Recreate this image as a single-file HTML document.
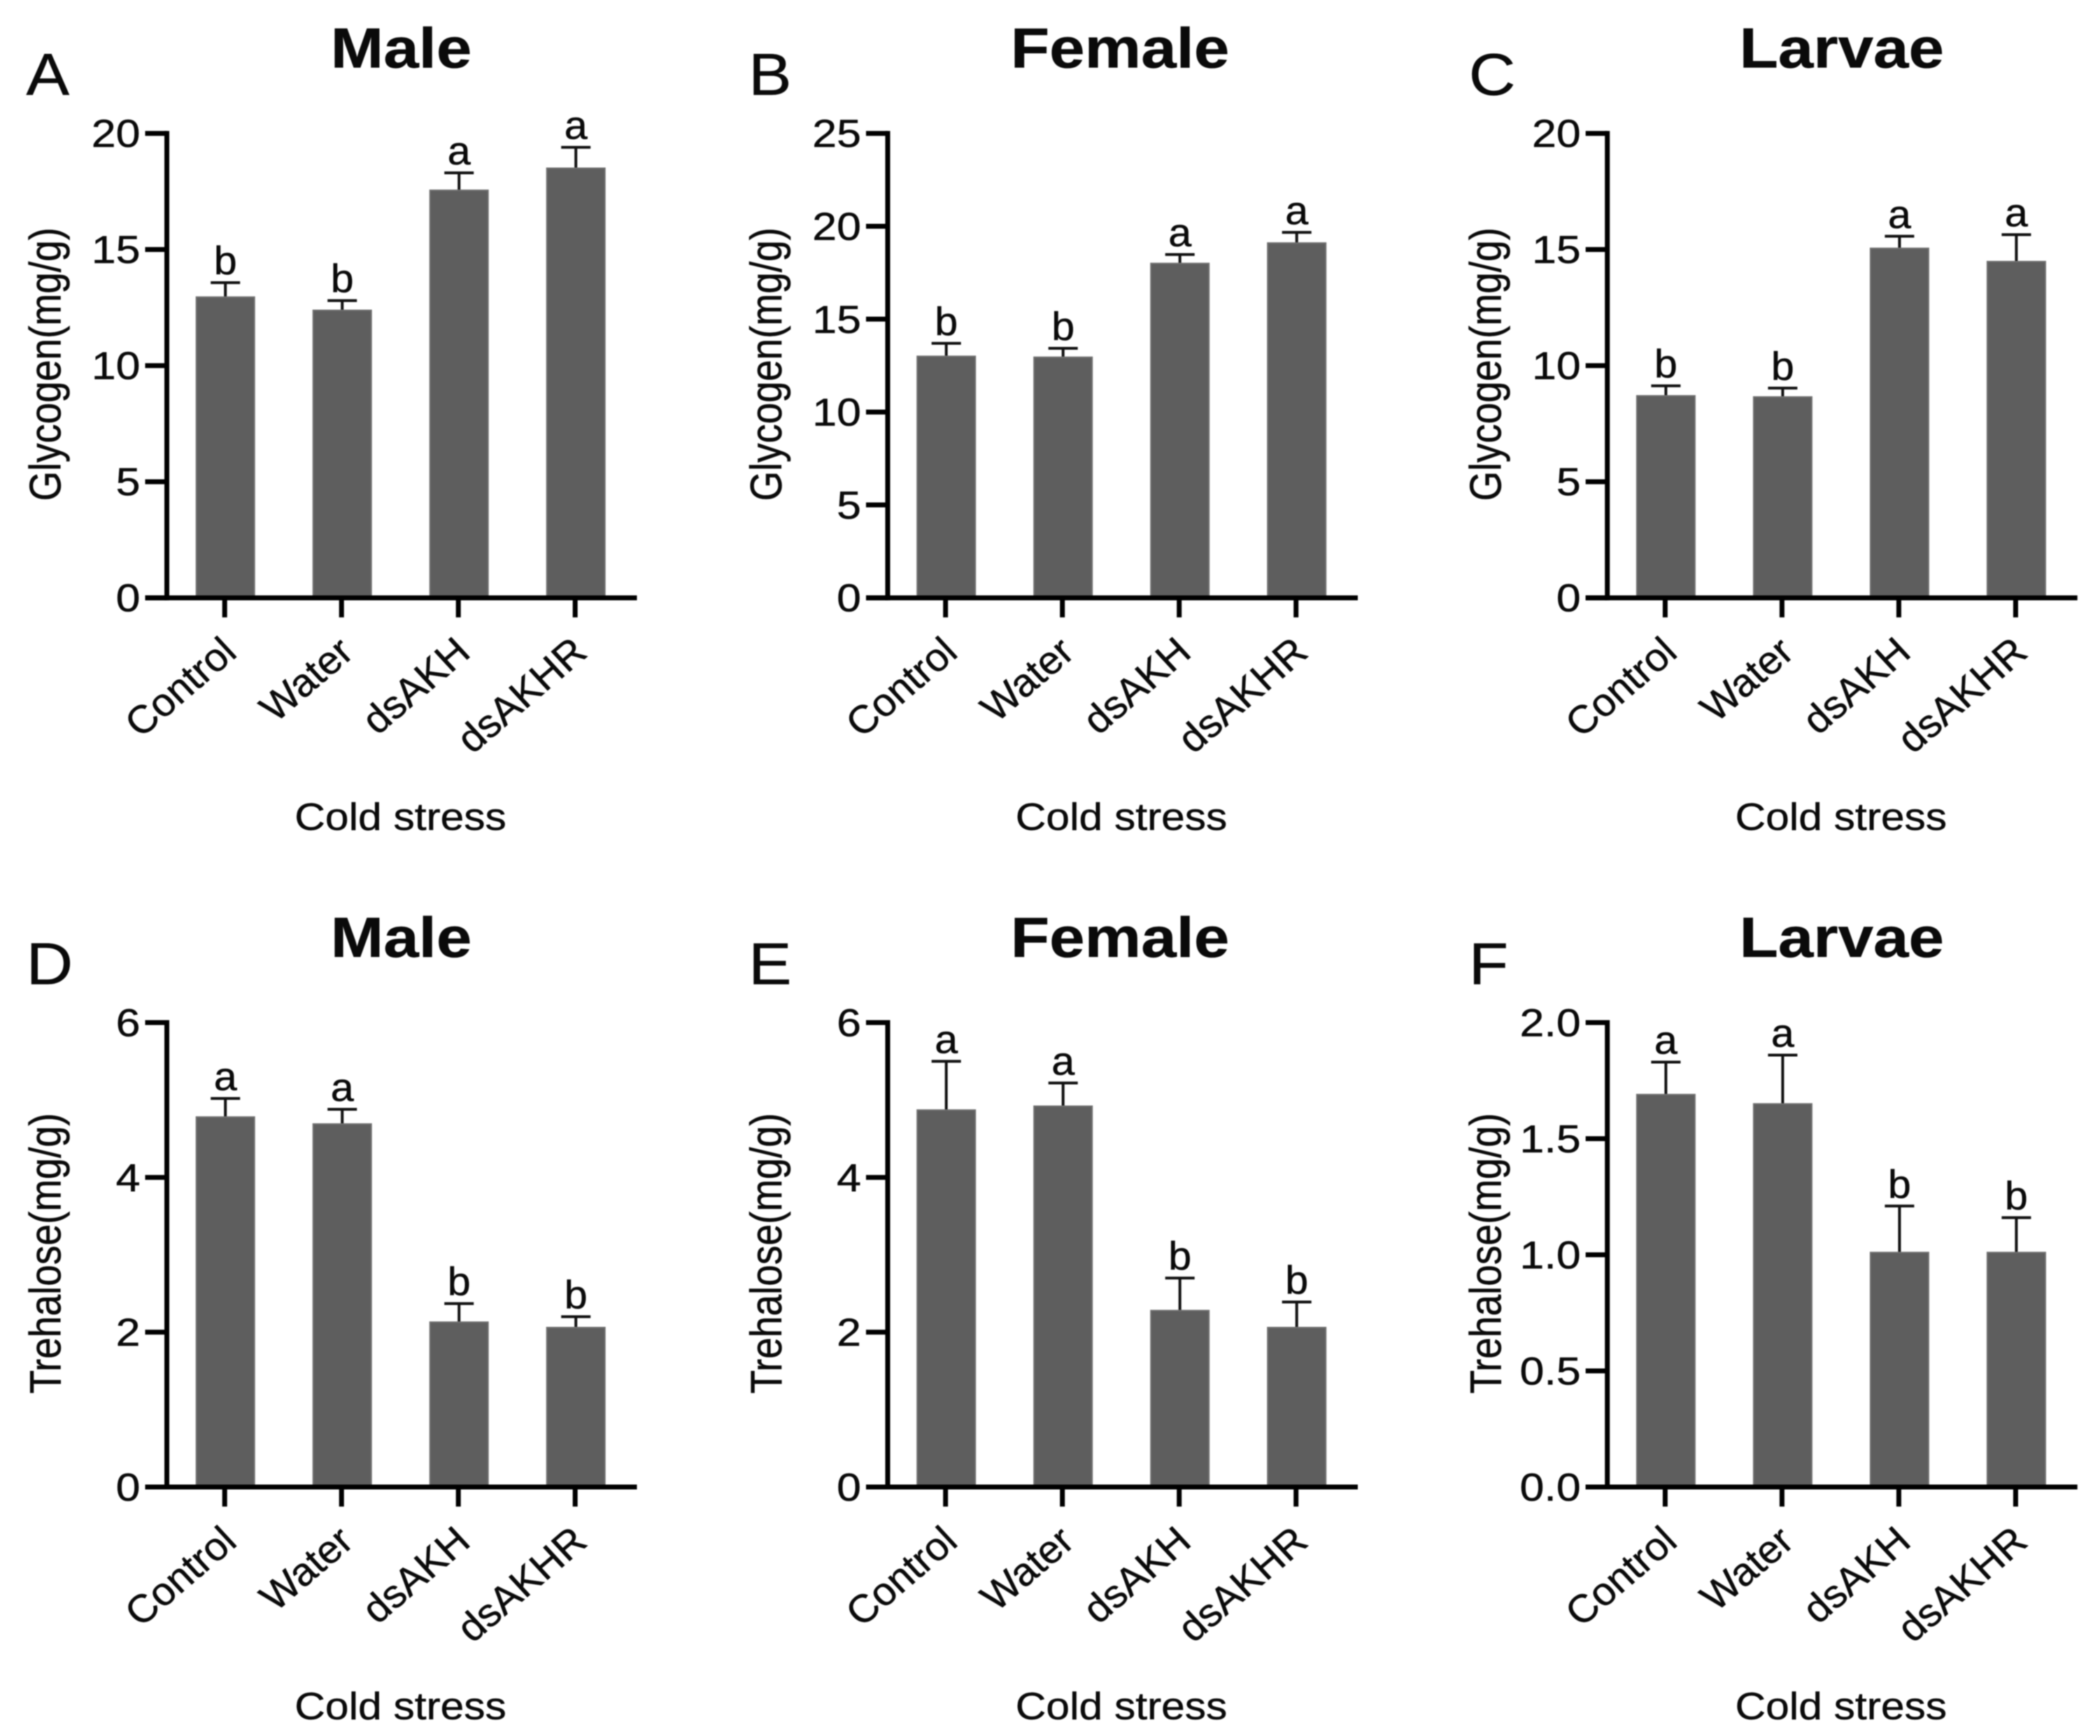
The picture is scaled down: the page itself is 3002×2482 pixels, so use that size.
<!DOCTYPE html>
<html lang="en">
<head>
<meta charset="utf-8">
<title>Glycogen and trehalose under cold stress</title>
<style>
html,body{margin:0;padding:0;background:#fff;}
body{width:3002px;height:2482px;overflow:hidden;}
svg{display:block;filter:blur(0.8px);}
text{font-family:"Liberation Sans",sans-serif;fill:#0a0a0a;stroke:#0a0a0a;stroke-width:0.5px;}
</style>
</head>
<body>
<svg id="figure" xmlns="http://www.w3.org/2000/svg" width="3002" height="2482" viewBox="0 0 3002 2482"></svg>
<script>
const categories = ['Control', 'Water', 'dsAKH', 'dsAKHR'];
const panelLetters = ['A', 'B', 'C', 'D', 'E', 'F'];
const panelTitles = ['Male', 'Female', 'Larvae', 'Male', 'Female', 'Larvae'];
const yAxisTitles = ['Glycogen(mg/g)', 'Glycogen(mg/g)', 'Glycogen(mg/g)', 'Trehalose(mg/g)', 'Trehalose(mg/g)', 'Trehalose(mg/g)'];
const xAxisTitle = 'Cold stress';

const ticksA = ['0', '5', '10', '15', '20'];
const ticksB = ['0', '5', '10', '15', '20', '25'];
const ticksC = ['0', '5', '10', '15', '20'];
const ticksD = ['0', '2', '4', '6'];
const ticksE = ['0', '2', '4', '6'];
const ticksF = ['0.0', '0.5', '1.0', '1.5', '2.0'];

const meansA = [12.95, 12.38, 17.55, 18.5];
const errorsA = [0.62, 0.42, 0.75, 0.9];
const groupsA = ['b', 'b', 'a', 'a'];

const meansB = [13.0, 12.95, 18.0, 19.1];
const errorsB = [0.7, 0.48, 0.48, 0.57];
const groupsB = ['b', 'b', 'a', 'a'];

const meansC = [8.7, 8.65, 15.05, 14.48];
const errorsC = [0.43, 0.38, 0.52, 1.16];
const groupsC = ['b', 'b', 'a', 'a'];

const meansD = [4.78, 4.69, 2.13, 2.06];
const errorsD = [0.24, 0.19, 0.24, 0.14];
const groupsD = ['a', 'a', 'b', 'b'];

const meansE = [4.87, 4.92, 2.28, 2.06];
const errorsE = [0.63, 0.3, 0.42, 0.33];
const groupsE = ['a', 'a', 'b', 'b'];

const meansF = [1.69, 1.65, 1.01, 1.01];
const errorsF = [0.14, 0.21, 0.2, 0.15];
const groupsF = ['a', 'a', 'b', 'b'];

const allTicks = [ticksA, ticksB, ticksC, ticksD, ticksE, ticksF];
const allMeans = [meansA, meansB, meansC, meansD, meansE, meansF];
const allErrors = [errorsA, errorsB, errorsC, errorsD, errorsE, errorsF];
const allGroups = [groupsA, groupsB, groupsC, groupsD, groupsE, groupsF];

const NS = 'http://www.w3.org/2000/svg';
const figure = document.getElementById('figure');
const axisLefts = [238.5, 1269, 2297.7];
const axisZeros = [854.7, 2126];
const letterShift = [-201, -199, -198];
const titleShift = [335, 332, 335];
const plotHeight = 664;
const barStep = 167;
const barWidth = 83;

function make(parent, tag, attrs, content) {
  const el = document.createElementNS(NS, tag);
  Object.keys(attrs).forEach(function (k) { el.setAttribute(k, attrs[k]); });
  if (content !== undefined) el.textContent = content;
  parent.appendChild(el);
  return el;
}

function label(parent, x, y, str, size, sx, anchor, weight) {
  return make(parent, 'text', {
    transform: 'translate(' + x + ' ' + y + ') scale(' + sx + ' 1)',
    'font-size': size,
    'font-weight': weight || 'normal',
    'text-anchor': anchor
  }, str);
}

function drawPanel(i) {
  const col = i % 3;
  const left = axisLefts[col];
  const zero = axisZeros[Math.floor(i / 3)];
  const ticks = allTicks[i];
  const means = allMeans[i];
  const errors = allErrors[i];
  const groups = allGroups[i];
  const yMax = parseFloat(ticks[ticks.length - 1]);
  const yScale = function (v) { return zero - (v / yMax) * plotHeight; };
  const xScale = function (k) { return left + 83.7 + k * barStep; };

  const g = make(figure, 'g', {});
  
  

  const letter = label(g, left + letterShift[col], zero - 719, panelLetters[i], 84, 1.1, 'start');
  
  

  const title = label(g, left + titleShift[col], zero - 758, panelTitles[i], 81, 1.12, 'middle', 'bold');
  
  

  means.forEach(function (m, k) {
    const x = xScale(k);
    const top = yScale(m);
    const capY = yScale(m + errors[k]);

    const stem = make(g, 'line', { x1: x, x2: x, y1: top, y2: capY, stroke: '#111', 'stroke-width': 4 });
    
    

    const cap = make(g, 'line', { x1: x - 21, x2: x + 21, y1: capY, y2: capY, stroke: '#111', 'stroke-width': 4 });
    
    

    const bar = make(g, 'rect', {
      x: x - barWidth / 2, y: top, width: barWidth, height: zero - top,
      fill: '#5e5e5e', stroke: '#707070', 'stroke-width': 2
    });
    
    

    const grp = label(g, x, capY - 12, groups[k], 57, 1.04, 'middle');
    
    

    const tick = make(g, 'line', { x1: x - 1, x2: x - 1, y1: zero, y2: zero + 28, stroke: '#000', 'stroke-width': 7 });
    
    

    const cat = make(g, 'text', {
      transform: 'translate(' + (x + 19) + ' ' + (zero + 82) + ') scale(1.04 1) rotate(-41.6)',
      'font-size': 56,
      'text-anchor': 'end'
    }, categories[k]);
    
    
  });

  const yAxis = make(g, 'line', { x1: left, x2: left, y1: yScale(yMax) - 3.5, y2: zero + 3.5, stroke: '#000', 'stroke-width': 7 });
  
  

  const xAxis = make(g, 'line', { x1: left - 31, x2: left + 672, y1: zero, y2: zero, stroke: '#000', 'stroke-width': 7 });
  
  

  ticks.forEach(function (t) {
    const y = yScale(parseFloat(t));
    const tick = make(g, 'line', { x1: left - 31, x2: left, y1: y, y2: y, stroke: '#000', 'stroke-width': 7 });
    
    

    const tickLabel = label(g, left - 38, y + 19.5, t, 56, 1.12, 'end');
    
    
  });

  const yTitle = make(g, 'text', {
    transform: 'translate(' + (left - 152) + ' ' + (zero - 334) + ') scale(1.15 1) rotate(-90)',
    'font-size': 55,
    'text-anchor': 'middle'
  }, yAxisTitles[i]);
  
  

  const xTitle = label(g, left + 334, zero + 332, xAxisTitle, 55, 1.1, 'middle');
  
  
}

panelLetters.forEach(function (_, i) { drawPanel(i); });
</script>
</body>
</html>
